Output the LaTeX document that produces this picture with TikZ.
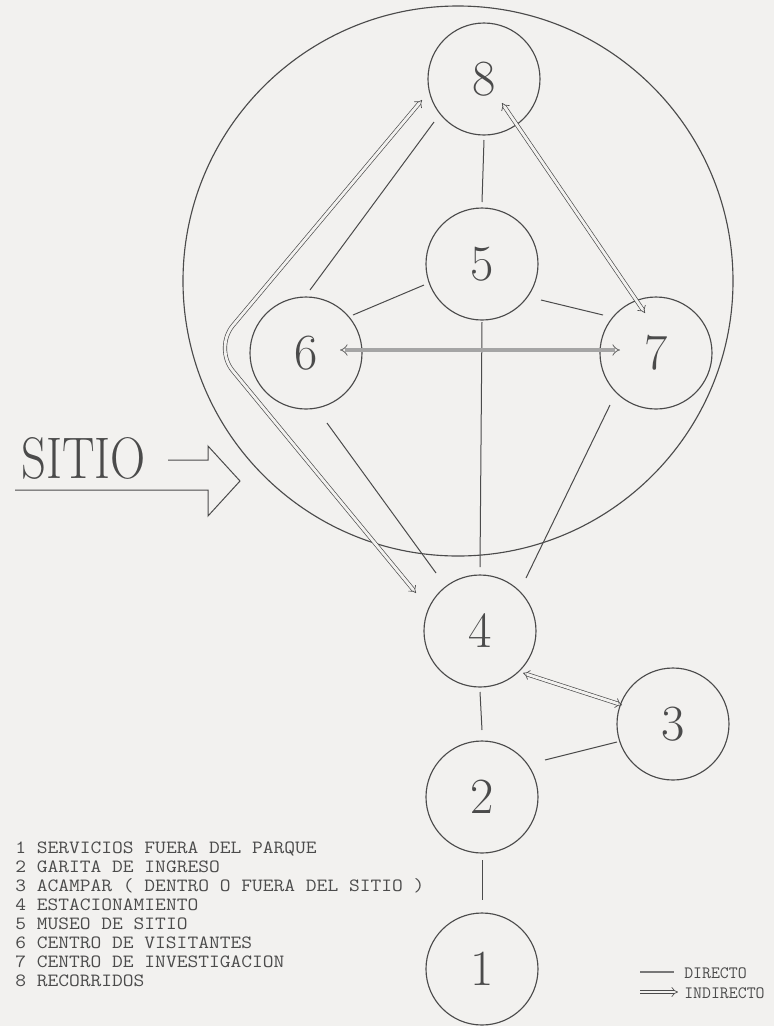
\documentclass[tikz,border=0pt]{standalone}
\usetikzlibrary{arrows.meta,calc}
\definecolor{ink}{RGB}{75,75,75}
\definecolor{paper}{RGB}{242,241,239}
\begin{document}
\begin{tikzpicture}[x=0.75pt,y=-0.75pt,
  stn/.style={circle,draw=ink,line width=0.85pt,minimum size=84pt,inner sep=0pt,text=ink,font=\fontsize{38}{40}\selectfont},
  direct/.style={draw=ink,line width=0.75pt},
  dbl/.style={draw=ink,line width=0.5pt,double=paper,double distance=2.1pt},
  dblgray/.style={draw=ink!85,line width=0.6pt,double=ink!50,double distance=2.4pt},
  both/.style={{Implies[scale=1.8]}-{Implies[scale=1.8]}},
  legtext/.style={inner sep=0pt,text=ink,font=\fontsize{14}{15}\ttfamily},
  keytext/.style={inner sep=0pt,text=ink,font=\fontsize{13}{14}\ttfamily}
]
\fill[paper] (0,0) rectangle (774,1026);
\useasboundingbox (0,0) rectangle (774,1026);

% site circle
\node[circle,draw=ink,line width=0.85pt,minimum size=412.5pt,inner sep=0pt] (site) at (458,281) {};

% stations
\node[stn] (n8) at (484,79) {8};
\node[stn] (n5) at (482,264) {5};
\node[stn] (n6) at (306,353) {6};
\node[stn] (n7) at (656,353) {7};
\node[stn] (n4) at (480,631) {4};
\node[stn] (n3) at (673,724) {3};
\node[stn] (n2) at (482,797) {2};
\node[stn] (n1) at (482,969) {1};

% direct links
\draw[direct] ($(n8)+(0,61)$) -- ($(n5)+(0,-62)$);
\draw[direct] ($(n8)+(-50,43)$) -- ($(n6)+(4,-63)$);
\draw[direct] ($(n6)+(47,-38)$) -- ($(n5)+(-58,21)$);
\draw[direct] ($(n5)+(59,36)$) -- ($(n7)+(-53,-38)$);
\draw[direct] ($(n5)+(0,58)$) -- ($(n4)+(0,-64)$);
\draw[direct] ($(n6)+(21,70)$) -- ($(n4)+(-44,-58)$);
\draw[direct] ($(n7)+(-46,52)$) -- ($(n4)+(46,-53)$);
\draw[direct] ($(n4)+(0,61)$) -- ($(n2)+(0,-67)$);
\draw[direct] ($(n2)+(63,-37)$) -- ($(n3)+(-56,18)$);
\draw[direct] ($(n2)+(0,63)$) -- ($(n1)+(0,-69)$);

% indirect links
\draw[dblgray,both] ($(n6)+(34,-3)$) -- ($(n7)+(-36,-3)$);
\draw[dbl,both] ($(n8)+(18,24)$) -- ($(n7)+(-11,-40)$);
\draw[dbl,both] ($(n4)+(43,42)$) -- ($(n3)+(-51,-19)$);
\coordinate (bend) at (214,348);
\draw[dbl,both,rounded corners=22pt] ($(n8)+(-62,21)$) -- (bend) -- ($(n4)+(-64,-38)$);

% SITIO entrance arrow
\node[anchor=base west,inner sep=0pt,text=ink,font=\fontsize{44}{44}\selectfont] (sitio) at (21,478) {\scalebox{0.83}[1]{SITIO}};
\draw[ink,line width=0.75pt,line join=miter] (168,460) -- (208,460) -- (208,446) -- (240,481) -- (208,516) -- (208,490) -- (15,490);

% legend
\foreach \i/\t in {1/SERVICIOS FUERA DEL PARQUE,2/GARITA DE INGRESO,3/ACAMPAR ( DENTRO O FUERA DEL SITIO ),4/ESTACIONAMIENTO,5/MUSEO DE SITIO,6/CENTRO DE VISITANTES,7/CENTRO DE INVESTIGACION,8/RECORRIDOS}
  \node[legtext,anchor=base west] (leg\i) at (15,{853+19*(\i-1)}) {\scalebox{1.12}[1]{\i\ \t}};

% key
\coordinate (kd1) at (640,972);
\coordinate (kd2) at (674,972);
\draw[draw=ink!75,line width=1.1pt] (kd1) -- (kd2);
\node[keytext,anchor=west] (kdt) at (684,973) {DIRECTO};
\coordinate (ki1) at (640,992);
\coordinate (ki2) at (678,992);
\draw[dbl,-{Implies[scale=1.8]}] (ki1) -- (ki2);
\node[keytext,anchor=west] (kit) at (684,993) {INDIRECTO};
\end{tikzpicture}
\end{document}
